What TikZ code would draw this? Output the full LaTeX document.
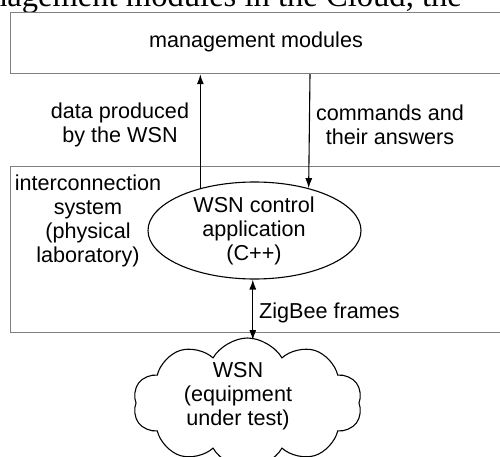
\documentclass[tikz,border=0pt]{standalone}
\usepackage{fontspec}
\setmainfont{Liberation Sans}
\newfontfamily\serifcut{Liberation Serif}
\usetikzlibrary{shapes.geometric,shapes.symbols,arrows.meta}
\begin{document}
\begin{tikzpicture}[x=1pt,y=1pt,
  every node/.style={font=\fontsize{21.6}{24}\selectfont},
  frame/.style={draw=black!50,line width=1.2pt},
  conn/.style={line width=1.1pt,-{Latex[length=10pt,width=7pt]}},
  dconn/.style={line width=1.1pt,{Latex[length=10pt,width=7pt]}-{Latex[length=10pt,width=7pt]}},
  lbl/.style={align=center,inner sep=0pt}]
\useasboundingbox (0,0) rectangle (500,456);
\clip (0,0) rectangle (500,456);
% cut-off running text from the page above
\node[anchor=base west,inner sep=0pt,font=\serifcut\fontsize{32.6}{36}\selectfont] (page) at (-49,449.5) {management modules in the Cloud, the};
% boxes
\node[frame,anchor=north west,minimum width=520,minimum height=61,inner sep=0pt] (mmbox) at (9.5,444) {};
\node[lbl] (mm) at (256,414) {management modules};
\node[frame,anchor=north west,minimum width=520,minimum height=166,inner sep=0pt] (icbox) at (9.5,290) {};
\node[lbl] (ic) at (88,235) {interconnection\\system\\(physical\\laboratory)};
% ellipse
\node[ellipse,draw,line width=1.1pt,minimum width=213,minimum height=97,inner sep=0pt] (ell) at (254.5,225.5) {};
\node[lbl] (app) at (254,225) {WSN control\\application\\(C++)};
% cloud
\node[cloud,draw,line width=1.1pt,cloud puffs=10,cloud puff arc=120,aspect=1.8,minimum width=229,minimum height=130,inner sep=0pt] (cld) at (247.5,53) {};
\node[lbl] (wsn) at (238,60) {WSN\\(equipment\\under test)};
% connectors
\coordinate (dnx) at (310,0);
\coordinate (cldtop) at (0,116);
\draw[conn] (ell.142.6) -- (ell.142.6 |- mmbox.south);
\draw[conn] (mmbox.south -| dnx) -- (ell.38);
\draw[dconn] (ell.268.5) -- (ell.268.5 |- cldtop);
% labels
\node[lbl] (dlab) at (120,331.5) {data produced\\by the WSN};
\node[lbl] (clab) at (390,331.5) {commands and\\their answers};
\node[lbl,anchor=west] (zlab) at (259,143) {ZigBee frames};
\end{tikzpicture}
\end{document}
